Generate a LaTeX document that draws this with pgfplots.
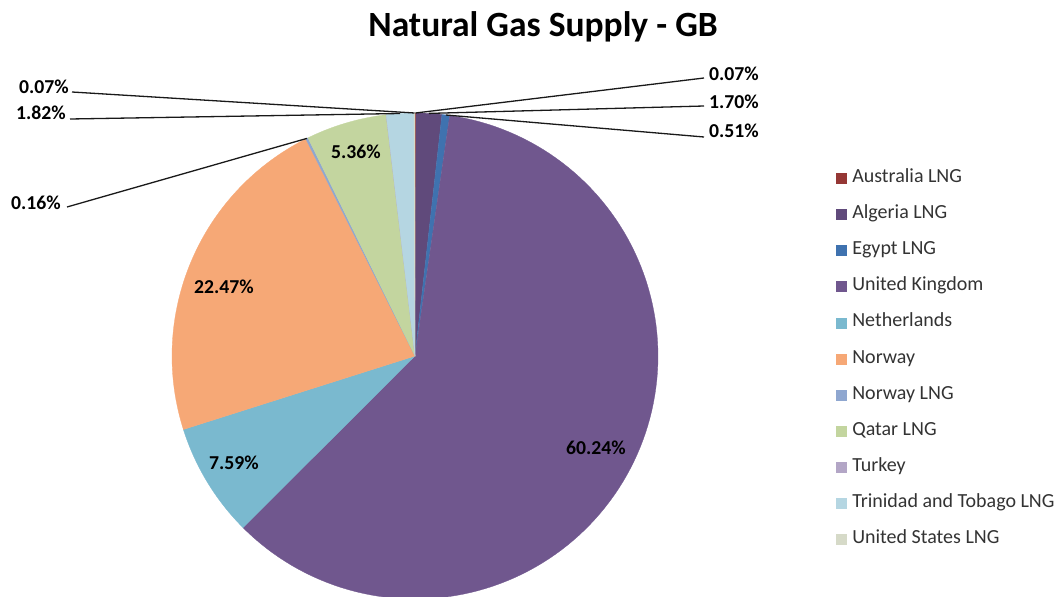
\documentclass[border=0pt]{standalone}
\usepackage{fontspec}
\setmainfont{Carlito}
\usepackage{pgfplots}
\usepackage{pgfplotstable}
\pgfplotsset{compat=1.18}

\definecolor{c0}{HTML}{953735}
\definecolor{c1}{HTML}{604A7B}
\definecolor{c2}{HTML}{3F72AF}
\definecolor{c3}{HTML}{70578E}
\definecolor{c4}{HTML}{7AB9CF}
\definecolor{c5}{HTML}{F6A876}
\definecolor{c6}{HTML}{8FA7D0}
\definecolor{c7}{HTML}{C3D59F}
\definecolor{c8}{HTML}{B3A6C6}
\definecolor{c9}{HTML}{B5D6E2}
\definecolor{c10}{HTML}{D6DAC8}

% share of supply (%), clockwise from 12 o'clock
\pgfplotstableread{
id val
0 0.07
1 1.70
2 0.51
3 60.24
4 7.59
5 22.47
6 0.16
7 5.36
8 0.01
9 1.82
10 0.07
}\piedata

\newcommand{\lbl}{\bfseries\fontsize{19.7bp}{23bp}\selectfont}

\begin{document}
\begin{tikzpicture}
\begin{axis}[
  scale only axis, width=1059bp, height=597bp,
  xmin=0, xmax=1059, ymin=0, ymax=597, y dir=reverse,
  hide axis, clip=true,
  legend image code/.code={\fill[#1] (0bp,-5bp) rectangle (10bp,5bp);},
  legend style={draw=none, fill=none, at={(axis cs:836,169.5)}, anchor=north west,
    inner sep=0pt, outer sep=0pt, row sep=18.6bp, column sep=6bp,
    font=\fontsize{20bp}{23bp}\selectfont, text=black!80,
    cells={anchor=west},
    nodes={inner sep=0pt, text height=13bp, text depth=4.5bp}},
  legend entries={Australia LNG, Algeria LNG, Egypt LNG, United Kingdom,
    Netherlands, Norway, Norway LNG, Qatar LNG, Turkey,
    Trinidad and Tobago LNG, United States LNG},
]
\def\cum{0}
\pgfplotsforeachungrouped \i in {0,...,10}{%
  \pgfplotstablegetelem{\i}{val}\of\piedata
  \let\v\pgfplotsretval
  \pgfmathsetmacro\aS{90-3.6*\cum}%
  \pgfmathsetmacro\cum{\cum+\v}%
  \pgfmathsetmacro\aE{90-3.6*\cum}%
  \edef\tmp{\noexpand\addplot[fill=c\i, draw=c\i, line width=0.3bp,
     domain=\aE:\aS, samples=120]
     ({415+243*cos(x)},{356-243*sin(x)}) -- (axis cs:415,356) -- cycle;}%
  \tmp
}

% title
\node[anchor=base, font=\bfseries\fontsize{35.5bp}{40bp}\selectfont] at (axis cs:543,37) {Natural Gas Supply - GB};

% leader lines
\begin{scope}[black!90, line width=1.3bp]
\draw (axis cs:415.5,113) -- (axis cs:704,78);
\draw (axis cs:429,113.4) -- (axis cs:704,106);
\draw (axis cs:445.8,115) -- (axis cs:704,137);
\draw (axis cs:414.5,113) -- (axis cs:72,92);
\draw (axis cs:400,113.5) -- (axis cs:70,119);
\draw (axis cs:306.9,138.4) -- (axis cs:67,207);
\end{scope}

% data labels
\node[font=\lbl] at (axis cs:734,74) {0.07\%};
\node[font=\lbl] at (axis cs:734,102) {1.70\%};
\node[font=\lbl] at (axis cs:734,131) {0.51\%};
\node[font=\lbl] at (axis cs:44,87) {0.07\%};
\node[font=\lbl] at (axis cs:41,113) {1.82\%};
\node[font=\lbl] at (axis cs:36,203) {0.16\%};
\node[font=\lbl] at (axis cs:356,152) {5.36\%};
\node[font=\lbl] at (axis cs:224,287) {22.47\%};
\node[font=\lbl] at (axis cs:234,463) {7.59\%};
\node[font=\lbl] at (axis cs:596,448) {60.24\%};
\end{axis}
\pgfresetboundingbox
\path[use as bounding box] (current axis.south west) rectangle (current axis.north east);
\end{tikzpicture}
\end{document}
